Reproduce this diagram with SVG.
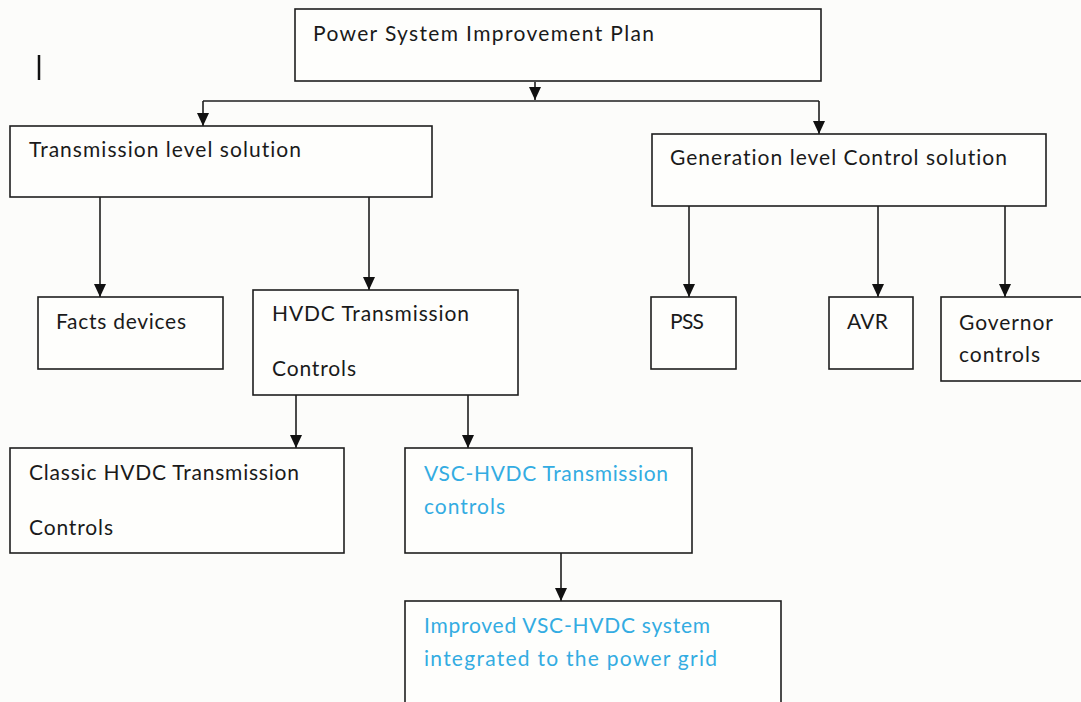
<svg xmlns="http://www.w3.org/2000/svg" width="1081" height="702" viewBox="0 0 1081 702">
<style>
.box{fill:#fefefc;stroke:#1e1e1e;stroke-width:1.6}
.t{font-family:Lato,"Liberation Sans",sans-serif;font-size:21px;fill:#1a1a1a;font-variant-ligatures:none}
.b{fill:#33ace2}
.c{fill:none;stroke:#1e1e1e;stroke-width:1.6}
</style>
<defs>
<marker id="ah" markerWidth="13" markerHeight="12" refX="13" refY="6" orient="auto" markerUnits="userSpaceOnUse" viewBox="0 0 13 12">
<path d="M0,0 L13,6 L0,12 Z" fill="#111"/>
</marker>
</defs>
<rect width="1081" height="702" fill="#fcfcfa"/>
<line x1="39" y1="55" x2="39" y2="80" stroke="#111" stroke-width="2.5"/>
<g id="connectors">
<path class="c" d="M535,82 V100" marker-end="url(#ah)"/>
<path class="c" d="M203,101 H819"/>
<path class="c" d="M203,101 V126" marker-end="url(#ah)"/>
<path class="c" d="M819,101 V134" marker-end="url(#ah)"/>
<path class="c" d="M100,197 V297" marker-end="url(#ah)"/>
<path class="c" d="M369,197 V290" marker-end="url(#ah)"/>
<path class="c" d="M689,206 V297" marker-end="url(#ah)"/>
<path class="c" d="M878,206 V297" marker-end="url(#ah)"/>
<path class="c" d="M1005,206 V297" marker-end="url(#ah)"/>
<path class="c" d="M296,395 V448" marker-end="url(#ah)"/>
<path class="c" d="M468,395 V448" marker-end="url(#ah)"/>
<path class="c" d="M561,553 V601" marker-end="url(#ah)"/>
</g>
<g id="root"><rect class="box" x="295" y="9" width="526" height="72"/>
<text class="t" x="313" y="41" textLength="341">Power System Improvement Plan</text></g>
<g id="transmission"><rect class="box" x="10" y="126" width="422" height="71"/>
<text class="t" x="29" y="157" textLength="272">Transmission level solution</text></g>
<g id="generation"><rect class="box" x="652" y="134" width="394" height="72"/>
<text class="t" x="670" y="165" textLength="337">Generation level Control solution</text></g>
<g id="facts"><rect class="box" x="38" y="297" width="185" height="72"/>
<text class="t" x="56" y="329" textLength="130">Facts devices</text></g>
<g id="hvdc"><rect class="box" x="253" y="290" width="265" height="105"/>
<text class="t" x="272" y="321" textLength="197">HVDC Transmission</text>
<text class="t" x="272" y="376" textLength="84">Controls</text></g>
<g id="pss"><rect class="box" x="651" y="297" width="85" height="72"/>
<text class="t" x="670" y="329" textLength="34">PSS</text></g>
<g id="avr"><rect class="box" x="829" y="297" width="84" height="72"/>
<text class="t" x="847" y="329" textLength="41">AVR</text></g>
<g id="governor"><rect class="box" x="941" y="297" width="145" height="84"/>
<text class="t" x="959" y="330" textLength="94">Governor</text>
<text class="t" x="959" y="362" textLength="81">controls</text></g>
<g id="classic"><rect class="box" x="10" y="448" width="334" height="105"/>
<text class="t" x="29" y="480" textLength="270">Classic HVDC Transmission</text>
<text class="t" x="29" y="535" textLength="84">Controls</text></g>
<g id="vsc"><rect class="box" x="405" y="448" width="287" height="105"/>
<text class="t b" x="424" y="481" textLength="244">VSC-HVDC Transmission</text>
<text class="t b" x="424" y="514" textLength="81">controls</text></g>
<g id="improved"><rect class="box" x="405" y="601" width="376" height="110"/>
<text class="t b" x="424" y="633" textLength="286">Improved VSC-HVDC system</text>
<text class="t b" x="424" y="666" textLength="293">integrated to the power grid</text></g>
</svg>
